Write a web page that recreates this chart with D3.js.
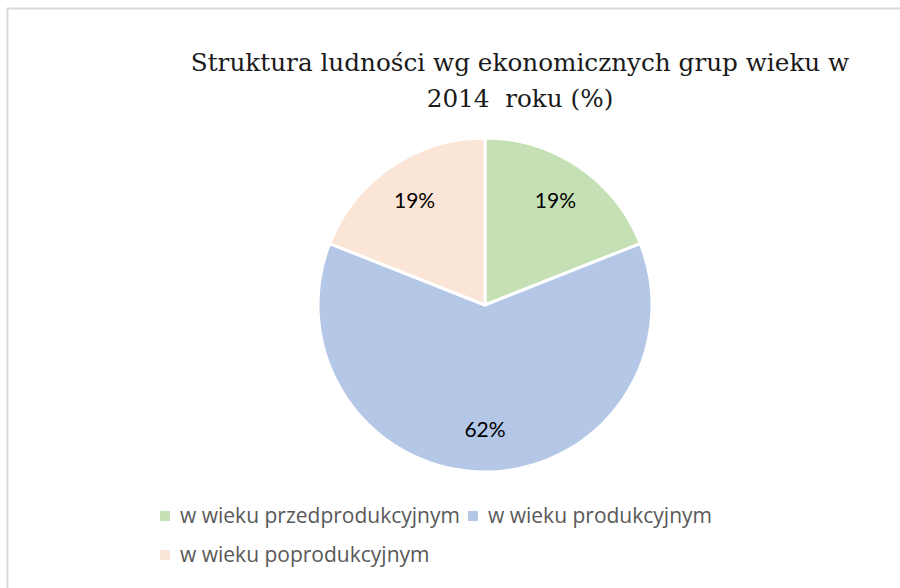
<!DOCTYPE html>
<html>
<head>
<meta charset="utf-8">
<script src="https://cdn.jsdelivr.net/npm/d3@7"></script>
<style>
  body { margin: 0; background: #fff; }
  svg { display: block; }
</style>
</head>
<body>
<svg id="chart" width="900" height="588"></svg>
<script>
// Data
const categories = ['w wieku przedprodukcyjnym', 'w wieku produkcyjnym', 'w wieku poprodukcyjnym'];
const values = [19, 62, 19];
const colors = ['#c5e0b4', '#b4c7e7', '#fbe5d6'];
const titleLines = ['Struktura ludności wg ekonomicznych grup wieku w', '2014  roku (%)'];

const data = categories.map((c, i) => ({ name: c, value: values[i], color: colors[i] }));

let svg = d3.select('#chart');

// frame
svg.append('rect')
  .attr('x', 7.5).attr('y', 8.5)
  .attr('width', 910).attr('height', 600)
  .attr('fill', 'none')
  .attr('stroke', '#d9d9d9')
  .attr('stroke-width', 2);

// title
svg.append('g').selectAll('text')
  .data(titleLines)
  .enter()
  .append('text')
  .attr('x', 520)
  .attr('y', (d, i) => 71 + i * 36)
  .attr('text-anchor', 'middle')
  .attr('font-family', 'DejaVu Serif, serif')
  .attr('font-size', 24.7)
  .attr('fill', '#1a1a1a')
  .style('white-space', 'pre')
  .text(d => d);

// pie
const cx = 485, cy = 305, R = 167;
const pie = d3.pie().sort(null).value(d => d.value);
const arc = d3.arc().innerRadius(0).outerRadius(R);
const labelArc = d3.arc().innerRadius(R * 0.75).outerRadius(R * 0.75);

let g = svg.append('g').attr('transform', `translate(${cx},${cy})`);
let arcs = pie(data);

g.selectAll('path')
  .data(arcs)
  .enter()
  .append('path')
  .attr('d', arc)
  .attr('fill', d => d.data.color)
  .attr('stroke', '#fff')
  .attr('stroke-width', 3)
  .attr('stroke-linejoin', 'round');

g.selectAll('.lbl')
  .data(arcs)
  .enter()
  .append('text')
  .attr('class', 'lbl')
  .attr('transform', d => `translate(${labelArc.centroid(d)})`)
  .attr('dy', '0.3em')
  .attr('text-anchor', 'middle')
  .attr('font-family', 'Lato, Open Sans, sans-serif')
  .attr('font-size', 21)
  .attr('fill', '#000')
  .text(d => Math.round(d.data.value) + '%');

// legend
const legendPos = [[160, 516], [468, 516], [160, 555]];
let lg = svg.append('g').selectAll('g')
  .data(data)
  .enter()
  .append('g')
  .attr('transform', (d, i) => `translate(${legendPos[i][0]},${legendPos[i][1]})`);

lg.append('rect')
  .attr('x', 0).attr('y', -5)
  .attr('width', 10).attr('height', 10)
  .attr('fill', d => d.color);

lg.append('text')
  .attr('x', 20)
  .attr('y', 0)
  .attr('dy', '0.35em')
  .attr('font-family', 'Open Sans, sans-serif')
  .attr('font-size', 21)
  .attr('fill', '#595959')
  .text(d => d.name);
</script>
</body>
</html>
